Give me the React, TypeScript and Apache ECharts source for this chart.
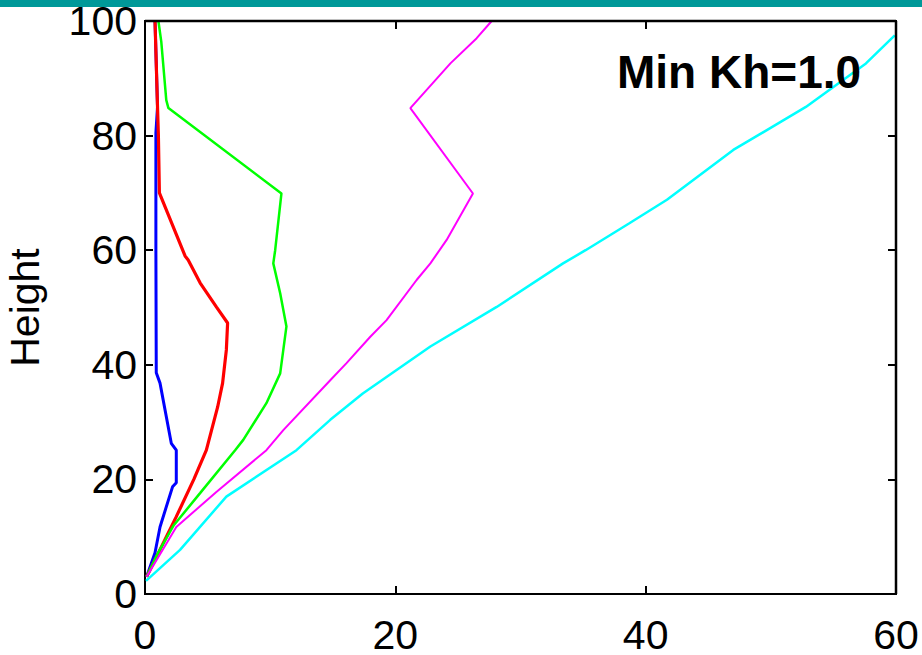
import React, { useEffect, useRef } from "react";
import * as echarts from "echarts";

const xTicks = [0, 20, 40, 60];
const yTicks = [0, 20, 40, 60, 80, 100];

const blueX = [0.13, 0.8, 1.2, 2.2, 2.5, 2.5, 2.1, 1.2, 0.9, 0.87, 0.87, 1.0, 0.8];
const blueY = [3, 7.2, 11.7, 18.7, 19.4, 25.1, 26.3, 36.8, 38.6, 60, 80.5, 85, 100];

const redX = [0.13, 0.4, 2.5, 3.9, 4.9, 5.8, 6.2, 6.5, 6.6, 5.7, 4.4, 3.45, 3.2, 1.15, 1.07, 1.0, 0.8];
const redY = [3, 4.2, 13.5, 20, 25.1, 32.6, 36.8, 42.6, 47.3, 50.1, 54.3, 58.3, 59, 70, 80, 85, 100];

const greenX = [0.13, 1.0, 2.3, 4.4, 7.2, 7.85, 9.7, 10.8, 11.05, 11.3, 10.8, 10.25, 10.4, 10.9, 1.87, 1.7, 1.3, 1.07];
const greenY = [3, 7, 12, 17.6, 25.1, 26.9, 33.3, 38.5, 42.6, 46.7, 52.5, 57.7, 60, 69.9, 84.8, 86.2, 96.4, 100];

const magentaX = [0.13, 2.5, 5.7, 9.7, 11.05, 14.8, 16.1, 18.0, 19.3, 21.7, 22.8, 24.1, 26.2, 21.2, 24.4, 26.5, 27.7];
const magentaY = [3, 11.7, 17.8, 25.1, 28.6, 37.3, 40.3, 44.9, 47.8, 54.8, 57.7, 61.8, 69.9, 84.8, 92.6, 97, 100];

const cyanX = [0.08, 2.8, 6.5, 12.1, 14.8, 17.4, 22.8, 28.1, 33.4, 35.2, 38.7, 41.7, 47, 52.8, 55, 57.6, 59.9];
const cyanY = [2.3, 7.7, 17, 25.1, 30.4, 35, 43.2, 50.1, 57.7, 60, 64.7, 68.8, 77.5, 85, 88.5, 92.6, 97.5];

const yLabel = "Height";
const annotation = "Min Kh=1.0";

const pairs = (xs: number[], ys: number[]) => xs.map((x, i) => [x, ys[i]]);

const FONT = "'Liberation Sans', Arial, Helvetica, sans-serif";

const GRID = { left: 145, top: 21, width: 751, height: 573 };

export default function App() {
  const ref = useRef<HTMLDivElement>(null);
  useEffect(() => {
    if (!ref.current) return;
    const chart = echarts.init(ref.current, undefined, { renderer: "svg" });
    const axisLineStyle = { color: "#000", width: 2 };
    const mkSeries = (name: string, xs: number[], ys: number[], color: string, width: number) => ({
      name,
      type: "line",
      data: pairs(xs, ys),
      showSymbol: false,
      symbol: "none",
      clip: true,
      lineStyle: { color, width },
      xAxisIndex: 0,
      yAxisIndex: 0,
    });
    const common = {
      type: "value",
      interval: 20,
      axisLine: { show: true, onZero: false, lineStyle: axisLineStyle },
      axisTick: { show: true, inside: true, length: 8, lineStyle: { color: "#000", width: 2 } },
      splitLine: { show: false },
    };
    chart.setOption({
      animation: false,
      backgroundColor: "#fff",
      grid: {
        ...GRID,
        containLabel: false,
        outerBoundsMode: "none",
        show: true,
        borderColor: "#000",
        borderWidth: 2,
        backgroundColor: "transparent",
      },
      xAxis: [
        {
          ...common,
          min: xTicks[0],
          max: xTicks[xTicks.length - 1],
          position: "bottom",
          axisLabel: { color: "#000", fontSize: 41, fontFamily: FONT, margin: 20 },
        },
        {
          ...common,
          min: xTicks[0],
          max: xTicks[xTicks.length - 1],
          position: "top",
          axisLabel: { show: false },
        },
      ],
      yAxis: [
        {
          ...common,
          min: yTicks[0],
          max: yTicks[yTicks.length - 1],
          position: "left",
          name: yLabel,
          nameLocation: "middle",
          nameGap: 100,
          nameRotate: 90,
          nameTextStyle: { color: "#000", fontSize: 41, fontFamily: FONT },
          axisLabel: { color: "#000", fontSize: 41, fontFamily: FONT, margin: 8 },
        },
        {
          ...common,
          min: yTicks[0],
          max: yTicks[yTicks.length - 1],
          position: "right",
          axisLabel: { show: false },
        },
      ],
      series: [
        mkSeries("blue", blueX, blueY, "#0000ff", 3),
        mkSeries("red", redX, redY, "#ff0000", 3.2),
        mkSeries("green", greenX, greenY, "#00ff00", 2.5),
        mkSeries("magenta", magentaX, magentaY, "#ff00ff", 2),
        mkSeries("cyan", cyanX, cyanY, "#00ffff", 2.5),
      ],
      graphic: [
        {
          type: "rect",
          left: 0,
          top: 0,
          shape: { x: 0, y: 0, width: 922, height: 7 },
          style: { fill: "#009999" },
          z: 10,
        },
        {
          type: "line",
          z: 50,
          silent: true,
          shape: { x1: GRID.left, y1: GRID.top, x2: GRID.left + GRID.width, y2: GRID.top },
          style: { stroke: "#000", lineWidth: 2.5 },
        },
        {
          type: "line",
          z: 50,
          silent: true,
          shape: {
            x1: GRID.left + GRID.width,
            y1: GRID.top,
            x2: GRID.left + GRID.width,
            y2: GRID.top + GRID.height,
          },
          style: { stroke: "#000", lineWidth: 2.5 },
        },
        {
          type: "text",
          x: 617,
          y: 72,
          z: 20,
          style: {
            text: annotation,
            fill: "#000",
            fontSize: 46,
            fontWeight: "bold",
            fontFamily: FONT,
            textVerticalAlign: "middle",
            verticalAlign: "middle",
          },
        },
      ],
    });
    return () => chart.dispose();
  }, []);
  return (
    <div
      ref={ref}
      style={{ position: "fixed", left: 0, top: 0, width: 922, height: 655, background: "#fff" }}
    />
  );
}
